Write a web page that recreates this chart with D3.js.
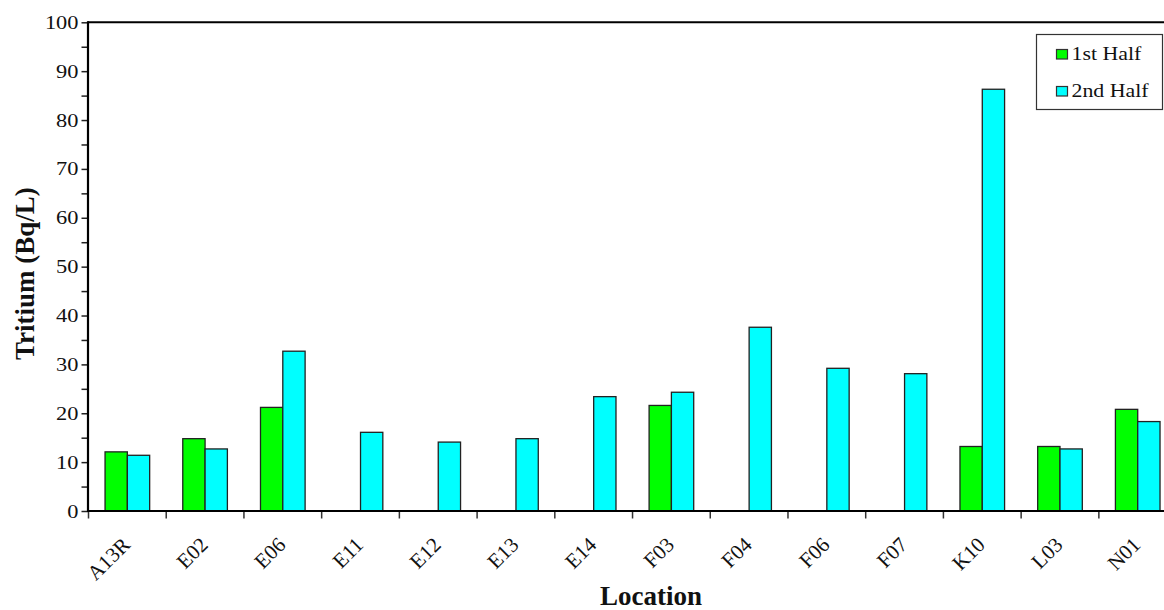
<!DOCTYPE html>
<html>
<head>
<meta charset="utf-8">
<script src="https://cdn.jsdelivr.net/npm/d3@7"></script>
<style>
  html, body { margin: 0; padding: 0; background: #fff; }
  svg { display: block; }
  text { font-family: "Liberation Serif", "Times New Roman", serif; fill: #111; }
</style>
</head>
<body>
<svg id="chart" width="1164" height="610"></svg>
<script>
const categories = ["A13R","E02","E06","E11","E12","E13","E14","F03","F04","F06","F07","K10","L03","N01"];
const firstHalf  = [12.1, 14.8, 21.2, null, null, null, null, 21.6, null, null, null, 13.2, 13.2, 20.8];
const secondHalf = [11.4, 12.7, 32.7, 16.1, 14.1, 14.8, 23.4, 24.3, 37.6, 29.2, 28.1, 86.3, 12.7, 18.3];
const seriesNames = ["1st Half", "2nd Half"];
const seriesColors = ["#00ff00", "#00ffff"];
const yTickValues = d3.range(0, 101, 5);

(function() {
const svg = d3.select("#chart");
const pLeft = 88.5, pTop = 22.3, pBottom = 511, step = 77.72;
const pRight = pLeft + step * categories.length;

const x = d3.scaleBand().domain(categories).range([pLeft, pRight]).paddingInner(0).paddingOuter(0);
const xSub = d3.scaleBand().domain(seriesNames).range([0, x.bandwidth()]).paddingInner(0).paddingOuter(0.742);
const y = d3.scaleLinear().domain([0, 100]).range([pBottom, pTop]);

const series = [firstHalf, secondHalf];

// bars
series.forEach((vals, si) => {
  svg.append("g").selectAll("rect")
    .data(categories.map((c, i) => ({c, v: vals[i]})).filter(d => d.v != null))
    .join("rect")
    .attr("x", d => x(d.c) + xSub(seriesNames[si]))
    .attr("y", d => y(d.v))
    .attr("width", xSub.bandwidth())
    .attr("height", d => y(0) - y(d.v))
    .attr("fill", seriesColors[si])
    .attr("stroke", "#222")
    .attr("stroke-width", 1.3);
});

// y axis
const yAxis = d3.axisLeft(y).tickValues(yTickValues)
  .tickFormat(d => d % 10 === 0 ? d : "")
  .tickSize(7).tickPadding(3);
const gy = svg.append("g").attr("transform", `translate(${pLeft},0)`).call(yAxis);
gy.select(".domain").remove();
gy.selectAll(".tick line").attr("stroke", "#222").attr("stroke-width", 1.5);
gy.selectAll(".tick text")
  .attr("font-size", 19)
  .attr("font-family", "Liberation Serif, serif")
  .attr("fill", "#222")
  .each(function() {
    const t = d3.select(this);
    const xx = +t.attr("x");
    t.attr("x", null).attr("transform", `translate(${xx},0) scale(1.18,1)`);
  });

// x ticks at band boundaries
svg.append("g").selectAll("line")
  .data(categories)
  .join("line")
  .attr("x1", d => x(d)).attr("x2", d => x(d))
  .attr("y1", pBottom).attr("y2", pBottom + 7.5)
  .attr("stroke", "#333").attr("stroke-width", 1.5);

// x labels
svg.append("g").selectAll("text")
  .data(categories)
  .join("text")
  .attr("transform", d => `translate(${x(d) + x.bandwidth() / 2 + 4},${pBottom + 35}) rotate(-45)`)
  .attr("text-anchor", "end")
  .attr("font-size", 21)
  .attr("fill", "#222")
  .text(d => d);

// frame lines
svg.append("line").attr("x1", pLeft - 1).attr("x2", 1164).attr("y1", pTop).attr("y2", pTop)
  .attr("stroke", "#000").attr("stroke-width", 2);
svg.append("line").attr("x1", pLeft - 1).attr("x2", 1164).attr("y1", pBottom).attr("y2", pBottom)
  .attr("stroke", "#000").attr("stroke-width", 2.2);
svg.append("line").attr("x1", pLeft - 0.5).attr("x2", pLeft - 0.5).attr("y1", pTop - 1).attr("y2", pBottom + 1)
  .attr("stroke", "#000").attr("stroke-width", 2.2);

// axis titles
svg.append("text")
  .attr("transform", `translate(34,${(pTop + pBottom) / 2 + 7}) rotate(-90)`)
  .attr("text-anchor", "middle")
  .attr("font-size", 27).attr("font-weight", "bold").attr("fill", "#000")
  .text("Tritium (Bq/L)");
svg.append("text")
  .attr("x", 651).attr("y", 605)
  .attr("text-anchor", "middle")
  .attr("font-size", 27).attr("font-weight", "bold").attr("fill", "#000")
  .text("Location");

// legend
const lg = svg.append("g");
lg.append("rect").attr("x", 1036.5).attr("y", 34.5).attr("width", 126).attr("height", 75)
  .attr("fill", "#fff").attr("stroke", "#333").attr("stroke-width", 1.2);
seriesNames.forEach((name, i) => {
  const yy = 49.5 + i * 37;
  lg.append("rect").attr("x", 1056.5).attr("y", yy).attr("width", 11).attr("height", 9.5)
    .attr("fill", seriesColors[i]).attr("stroke", "#333").attr("stroke-width", 1.2);
  lg.append("text")
    .attr("transform", `translate(1071.5,${yy + 10.5}) scale(1.15,1)`)
    .attr("font-size", 19).attr("fill", "#222")
    .text(name);
});
})();
</script>
</body>
</html>
